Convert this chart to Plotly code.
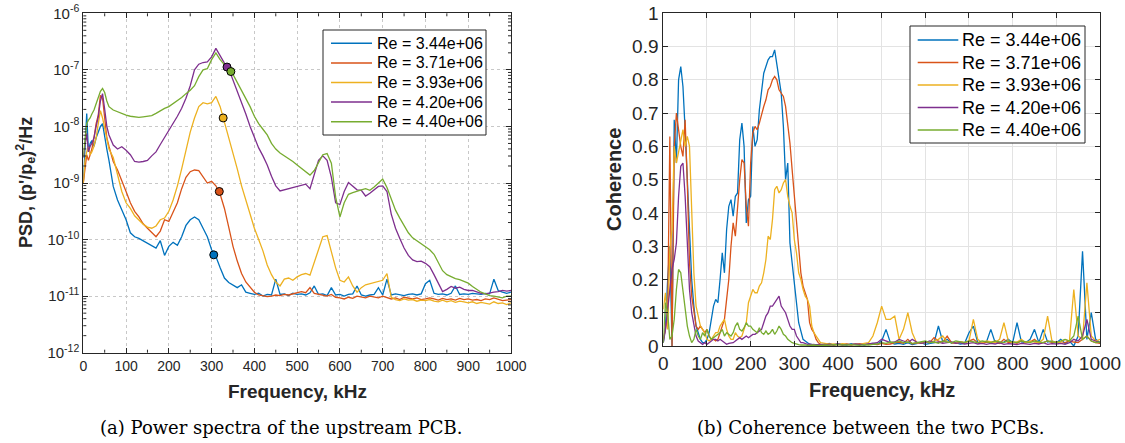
import plotly.graph_objects as go

# ---------------- data ----------------
labels = ["Re = 3.44e+06", "Re = 3.71e+06", "Re = 3.93e+06", "Re = 4.20e+06", "Re = 4.40e+06"]
colors = ["#0072BD", "#D95319", "#EDB120", "#7E2F8E", "#77AC30"]

# (a) power spectra: frequency (kHz) and log10(PSD)
freq_psd = [0, 4, 8, 12, 16, 20, 25, 30, 35, 40, 45, 50, 55, 60] + list(range(70, 1001, 10))

logpsd_344 = [-9.0, -8.4, -7.77, -8.45, -8.3, -8.25, -8.35, -8.2, -8.1, -8.0, -7.95, -8.2, -8.4, -8.6,
              -9.06, -9.3, -9.48, -9.65, -9.88, -9.95, -9.98, -10.02, -10.06, -10.1,
              -10.15, -10.02, -10.28, -10.12, -10.05, -10.1, -9.95, -9.75, -9.65, -9.6,
              -9.65, -9.8, -9.95, -10.18, -10.3, -10.5, -10.68, -10.76, -10.8, -10.85,
              -10.8, -10.93, -10.95, -10.97, -10.95, -11.0, -10.97, -10.98, -10.7, -10.97,
              -10.96, -10.99, -10.95, -10.97, -10.96, -10.98, -10.94, -10.82, -10.97, -10.96,
              -10.99, -10.85, -10.98, -10.97, -11.0, -10.97, -10.96, -10.82, -10.98, -11.0,
              -10.98, -10.97, -10.85, -10.98, -10.7, -10.98, -10.96, -10.97, -10.99, -10.97,
              -10.96, -10.98, -10.96, -10.78, -10.72, -10.95, -10.97, -10.96, -10.98, -10.95,
              -10.82, -10.97, -10.96, -10.97, -10.95, -10.96, -10.97, -10.95, -10.96, -10.7,
              -10.9, -10.93, -10.95, -10.93]
logpsd_371 = [-9.0, -8.7, -8.5, -8.6, -8.5, -8.4, -8.2, -7.95, -7.8, -7.45, -7.5, -7.9, -8.2, -8.35,
              -8.62, -8.77, -8.95, -9.15, -9.35, -9.5, -9.6, -9.72, -9.8, -9.88,
              -9.95, -9.85, -9.65, -9.68, -9.52, -9.35, -9.1, -8.9, -8.8, -8.77,
              -8.78, -8.88, -9.0, -8.97, -9.05, -9.2, -9.45, -9.78, -10.12, -10.38,
              -10.6, -10.75, -10.85, -10.93, -10.98, -11.0, -11.01, -11.0, -10.98, -10.99,
              -10.97, -10.98, -10.96, -10.95, -10.92, -10.94, -10.85, -10.95, -10.97, -10.99,
              -11.0, -10.97, -11.02, -11.03, -11.05, -11.02, -11.04, -11.0, -11.02, -11.03,
              -11.0, -11.02, -11.03, -11.0, -11.02, -11.05, -11.03, -11.06, -11.02, -11.04,
              -11.05, -11.03, -11.06, -11.05, -11.03, -11.05, -11.07, -11.04, -11.06, -11.05,
              -11.07, -11.04, -11.06, -11.05, -11.07, -11.06, -11.08, -11.05, -11.06, -11.03,
              -11.06, -11.08, -11.07, -11.06]
logpsd_393 = [-9.0, -8.6, -8.45, -8.36, -8.5, -8.45, -8.35, -8.2, -7.95, -7.72, -7.85, -8.05, -8.25, -8.4,
              -8.55, -8.85, -9.15, -9.35, -9.45, -9.58, -9.65, -9.73, -9.78, -9.8,
              -9.76, -9.65, -9.62, -9.5, -9.3, -9.05, -8.75, -8.4, -8.1, -7.85,
              -7.65, -7.58, -7.6, -7.58, -7.47, -7.65, -7.92, -8.2, -8.5, -8.75,
              -9.05, -9.3, -9.55, -9.8, -10.0, -10.2, -10.45, -10.62, -10.75, -10.82,
              -10.7, -10.68, -10.72, -10.66, -10.62, -10.6, -10.63, -10.4, -10.15, -9.95,
              -9.93, -10.2, -10.5, -10.72, -10.75, -10.66, -10.82, -10.93, -10.85, -10.8,
              -10.78, -10.76, -10.74, -10.72, -10.6, -11.02, -11.06, -11.08, -11.05, -11.07,
              -11.06, -11.09, -11.07, -11.08, -11.06, -11.09, -11.1, -11.07, -11.1, -11.08,
              -11.11, -11.09, -11.1, -11.12, -11.1, -11.13, -11.11, -11.12, -11.14, -11.1,
              -11.13, -11.12, -11.15, -11.12]
logpsd_420 = [-8.55, -8.35, -8.12, -8.45, -8.35, -8.3, -8.2, -8.0, -7.83, -7.55, -7.42, -7.7, -8.0, -8.15,
              -8.33, -8.4, -8.36, -8.42, -8.5, -8.62, -8.63, -8.62, -8.6, -8.52,
              -8.45, -8.32, -8.2, -8.08, -7.95, -7.82, -7.68, -7.5, -7.28, -7.0,
              -6.9, -6.87, -6.86, -6.77, -6.62, -6.75, -6.88, -6.98, -7.18, -7.36,
              -7.56, -7.78, -8.0, -8.2, -8.38, -8.52, -8.68, -8.88, -9.05, -9.14,
              -9.12, -9.1, -9.08, -9.05, -9.04, -9.02, -9.1, -8.85, -8.6, -8.52,
              -8.6, -8.9, -9.35, -9.38, -9.15, -8.99, -9.05, -9.12, -9.13, -9.23,
              -9.18, -9.12, -9.06, -9.05, -9.15, -9.55, -9.8, -9.98, -10.15, -10.28,
              -10.36, -10.39, -10.38, -10.42, -10.48, -10.62, -10.78, -10.92, -10.88, -10.83,
              -10.86, -10.84, -10.88, -10.9, -10.9, -10.93, -10.95, -10.96, -10.94, -10.93,
              -10.92, -10.9, -10.91, -10.9]
logpsd_440 = [-8.53, -8.25, -7.95, -7.89, -7.85, -7.78, -7.71, -7.6, -7.5, -7.38, -7.33, -7.4, -7.55, -7.65,
              -7.71, -7.74, -7.78, -7.8, -7.82, -7.83, -7.84, -7.83, -7.82, -7.81,
              -7.77, -7.72, -7.68, -7.65, -7.6, -7.55, -7.49, -7.42, -7.36, -7.28,
              -7.12, -7.0, -6.98, -6.82, -6.7, -6.82, -6.92, -7.0, -7.08, -7.22,
              -7.35, -7.5, -7.65, -7.82, -7.95, -8.05, -8.15, -8.3, -8.4, -8.47,
              -8.52, -8.56, -8.62, -8.68, -8.74, -8.8, -8.86, -8.78, -8.65, -8.5,
              -8.48, -8.65, -9.25, -9.6, -9.35, -9.2, -9.17, -9.14, -9.12, -9.1,
              -9.13, -9.07, -9.0, -8.93, -9.08, -9.3, -9.48, -9.62, -9.76, -9.88,
              -9.97, -10.02, -10.07, -10.12, -10.18, -10.26, -10.42, -10.55, -10.62, -10.66,
              -10.69, -10.71, -10.74, -10.77, -10.83, -10.88, -10.93, -10.96, -10.99, -11.0,
              -11.02, -11.03, -11.0, -11.0]
logpsd_all = [logpsd_344, logpsd_371, logpsd_393, logpsd_420, logpsd_440]

marker_freq = [305, 318, 327, 336, 345]
marker_logpsd = [-10.27, -9.15, -7.85, -6.95, -7.03]

# (b) coherence
freq_coh = list(range(0, 361, 5)) + list(range(370, 1001, 10))

coh_344 = [0.01, 0.06, 0.2, 0.3, 0.0, 0.68, 0.55, 0.8, 0.84, 0.78,
           0.65, 0.5, 0.33, 0.2, 0.12, 0.06, 0.04, 0.02, 0.01, 0.01,
           0.02, 0.04, 0.08, 0.12, 0.14, 0.13, 0.2, 0.28, 0.22, 0.35,
           0.42, 0.44, 0.39, 0.45, 0.46, 0.62, 0.67, 0.6, 0.37, 0.44,
           0.45, 0.66, 0.6, 0.62, 0.71, 0.76, 0.82, 0.84, 0.86, 0.87,
           0.87, 0.89, 0.85, 0.8, 0.76, 0.66, 0.5, 0.55, 0.31, 0.25,
           0.18, 0.13, 0.07, 0.04, 0.02, 0.015, 0.01, 0.005, 0.005, 0.003,
           0.004, 0.003, 0.005,
           0.004, 0.008, 0.003, 0.006, 0.004, 0.003, 0.007, 0.004, 0.005, 0.003,
           0.006, 0.008, 0.005, 0.015, 0.05, 0.01, 0.006, 0.008, 0.005, 0.01,
           0.004, 0.006, 0.01, 0.005, 0.008, 0.01, 0.06, 0.012, 0.02, 0.008,
           0.01, 0.006, 0.008, 0.04, 0.06, 0.01, 0.008, 0.012, 0.05, 0.01,
           0.008, 0.012, 0.02, 0.01, 0.07, 0.012, 0.01, 0.02, 0.05, 0.01,
           0.05, 0.012, 0.015, 0.01, 0.02, 0.008, 0.015, 0.0, 0.03, 0.285,
           0.02, 0.1, 0.02, 0.01]
coh_371 = [0.02, 0.05, 0.1, 0.63, 0.0, 0.6, 0.7, 0.65, 0.6, 0.57,
           0.68, 0.49, 0.25, 0.15, 0.1, 0.06, 0.05, 0.06, 0.05, 0.04,
           0.05, 0.03, 0.02, 0.02, 0.015, 0.02, 0.04, 0.06, 0.08, 0.14,
           0.2, 0.3, 0.37, 0.33, 0.42, 0.5, 0.56, 0.55, 0.42, 0.36,
           0.55, 0.64, 0.66, 0.65, 0.67, 0.7, 0.72, 0.74, 0.77, 0.78,
           0.8, 0.81, 0.8, 0.77, 0.76, 0.75, 0.72, 0.67, 0.61, 0.53,
           0.45, 0.37, 0.28, 0.22, 0.18, 0.16, 0.14, 0.07, 0.05, 0.04,
           0.02, 0.01, 0.005,
           0.004, 0.006, 0.003, 0.005, 0.004, 0.006, 0.003, 0.005, 0.007, 0.004,
           0.005, 0.006, 0.004, 0.008, 0.005, 0.006, 0.01, 0.012, 0.008, 0.02,
           0.006, 0.01, 0.008, 0.012, 0.01, 0.025, 0.015, 0.012, 0.03, 0.01,
           0.008, 0.012, 0.01, 0.015, 0.02, 0.01, 0.008, 0.012, 0.01, 0.015,
           0.008, 0.02, 0.01, 0.012, 0.008, 0.015, 0.01, 0.012, 0.02, 0.008,
           0.01, 0.015, 0.01, 0.012, 0.008, 0.01, 0.015, 0.012, 0.01, 0.02,
           0.03, 0.015, 0.01, 0.008]
coh_393 = [0.11, 0.16, 0.05, 0.29, 0.35, 0.6, 0.55, 0.58, 0.62, 0.65,
           0.6, 0.63, 0.6, 0.43, 0.22, 0.12, 0.09, 0.06, 0.05, 0.04,
           0.02, 0.015, 0.02, 0.03, 0.04, 0.04, 0.06, 0.07, 0.08, 0.05,
           0.03, 0.02, 0.02, 0.04, 0.03, 0.025, 0.03, 0.05, 0.07, 0.13,
           0.15, 0.17, 0.16, 0.16, 0.18, 0.19, 0.22, 0.26, 0.33, 0.32,
           0.38, 0.47, 0.48, 0.46, 0.47, 0.49, 0.5, 0.45, 0.42, 0.4,
           0.32, 0.28, 0.22, 0.2, 0.17, 0.15, 0.14, 0.12, 0.06, 0.04,
           0.03, 0.02, 0.01,
           0.008, 0.005, 0.006, 0.004, 0.007, 0.005, 0.004, 0.006, 0.005, 0.008,
           0.01, 0.03, 0.07, 0.12, 0.08, 0.08, 0.09, 0.02, 0.05, 0.1,
           0.04, 0.01, 0.008, 0.012, 0.01, 0.015, 0.02, 0.03, 0.012, 0.01,
           0.008, 0.012, 0.01, 0.015, 0.08, 0.02, 0.01, 0.015, 0.012, 0.01,
           0.02, 0.07, 0.015, 0.01, 0.012, 0.02, 0.01, 0.015, 0.012, 0.01,
           0.02, 0.09, 0.015, 0.01, 0.012, 0.02, 0.015, 0.17, 0.03, 0.02,
           0.19, 0.03, 0.015, 0.02]
coh_420 = [0.01, 0.05, 0.11, 0.18, 0.23, 0.26, 0.31, 0.45, 0.54, 0.55,
           0.45, 0.31, 0.17, 0.1, 0.06, 0.03, 0.015, 0.01, 0.005, 0.01,
           0.005, 0.01, 0.015, 0.02, 0.02, 0.015, 0.02, 0.015, 0.01, 0.005,
           0.008, 0.01, 0.01, 0.015, 0.02, 0.025, 0.02, 0.025, 0.03, 0.025,
           0.03, 0.035, 0.035, 0.04, 0.045, 0.05, 0.07, 0.09, 0.1, 0.12,
           0.12, 0.13, 0.14, 0.15, 0.12, 0.11, 0.1, 0.08, 0.06, 0.05,
           0.05, 0.03, 0.02, 0.01, 0.01, 0.008, 0.005, 0.006, 0.004, 0.005,
           0.003, 0.005, 0.004,
           0.005, 0.003, 0.004, 0.006, 0.003, 0.005, 0.004, 0.006, 0.005, 0.004,
           0.006, 0.008, 0.01, 0.02, 0.015, 0.01, 0.012, 0.02, 0.015, 0.01,
           0.02, 0.012, 0.008, 0.01, 0.015, 0.01, 0.012, 0.008, 0.01, 0.012,
           0.008, 0.01, 0.006, 0.008, 0.01, 0.006, 0.008, 0.005, 0.008, 0.006,
           0.01, 0.005, 0.007, 0.006, 0.004, 0.008, 0.006, 0.005, 0.008, 0.006,
           0.01, 0.005, 0.007, 0.006, 0.008, 0.005, 0.01, 0.02, 0.015, 0.03,
           0.08, 0.02, 0.015, 0.01]
coh_440 = [0.01, 0.13, 0.1, 0.02, 0.03, 0.08, 0.17, 0.23, 0.22, 0.16,
           0.1, 0.06, 0.03, 0.01, 0.02, 0.05, 0.03, 0.02, 0.04, 0.03,
           0.05, 0.03, 0.02, 0.025, 0.03, 0.035, 0.04, 0.05, 0.03, 0.04,
           0.035, 0.03, 0.04, 0.06, 0.07, 0.05, 0.045, 0.055, 0.07, 0.06,
           0.06, 0.05, 0.045, 0.04, 0.055, 0.04, 0.035, 0.045, 0.035, 0.04,
           0.05, 0.035, 0.045, 0.06, 0.05, 0.035, 0.03, 0.02, 0.015, 0.01,
           0.008, 0.005, 0.004, 0.003, 0.004, 0.003, 0.002, 0.003, 0.002, 0.003,
           0.002, 0.003, 0.002,
           0.003, 0.002, 0.004, 0.003, 0.002, 0.003, 0.004, 0.003, 0.002, 0.004,
           0.003, 0.005, 0.006, 0.01, 0.008, 0.012, 0.01, 0.015, 0.01, 0.012,
           0.008, 0.01, 0.012, 0.015, 0.01, 0.012, 0.008, 0.015, 0.012, 0.01,
           0.015, 0.012, 0.01, 0.015, 0.012, 0.01, 0.015, 0.012, 0.01, 0.015,
           0.012, 0.01, 0.015, 0.012, 0.01, 0.015, 0.012, 0.01, 0.015, 0.012,
           0.01, 0.015, 0.012, 0.01, 0.015, 0.02, 0.015, 0.03, 0.09, 0.02,
           0.03, 0.015, 0.01, 0.012]
coh_all = [coh_344, coh_371, coh_393, coh_420, coh_440]

for s in logpsd_all:
    assert len(s) == len(freq_psd), len(s)
for s in coh_all:
    assert len(s) == len(freq_coh), len(s)

psd_ticks = [1e-12, 1e-11, 1e-10, 1e-9, 1e-8, 1e-7, 1e-6]
psd_ticktext = ["10<sup>-12</sup>", "10<sup>-11</sup>", "10<sup>-10</sup>", "10<sup>-9</sup>",
                "10<sup>-8</sup>", "10<sup>-7</sup>", "10<sup>-6</sup>"]
psd_minor = [m * 10.0 ** e for e in range(-12, -6) for m in range(2, 10)]
freq_minor = list(range(50, 1000, 100))

# ---------------- figure ----------------
W, H = 1125, 443
INK = "#262626"
SANS = "Liberation Sans"
fig = go.Figure()

for i in range(5):
    fig.add_trace(go.Scatter(
        x=freq_psd, y=[10 ** v for v in logpsd_all[i]], mode="lines",
        line=dict(color=colors[i], width=1.3), name=labels[i],
        xaxis="x", yaxis="y", showlegend=False))
for i in range(5):
    fig.add_trace(go.Scatter(
        x=[marker_freq[i]], y=[10 ** marker_logpsd[i]], mode="markers",
        marker=dict(color=colors[i], size=8, line=dict(color="black", width=1)),
        showlegend=False, xaxis="x", yaxis="y"))
for i in range(5):
    fig.add_trace(go.Scatter(
        x=freq_coh, y=coh_all[i], mode="lines",
        line=dict(color=colors[i], width=1.3), name=labels[i],
        xaxis="x2", yaxis="y2", showlegend=False))

common = dict(showline=True, linecolor=INK, linewidth=1, mirror="ticks", ticks="inside",
              tickcolor=INK, ticklen=5, zeroline=False, automargin=False)

L_X0, L_X1, L_Y0, L_Y1 = 83.3, 511, 13.3, 352.7   # left axes box (px)
fig.update_layout(
    width=W, height=H, margin=dict(l=0, r=0, t=0, b=0),
    paper_bgcolor="white", plot_bgcolor="white", showlegend=False,
    xaxis=dict(domain=[L_X0 / W, L_X1 / W], range=[0, 1000], tick0=0, dtick=100,
               anchor="y", showgrid=True, gridcolor="#c8c8c8", griddash="dot", gridwidth=1,
               tickfont=dict(family=SANS, size=14, color=INK),
               **common),
    yaxis=dict(domain=[1 - L_Y1 / H, 1 - L_Y0 / H], type="log", range=[-12, -6],
               tickmode="array", tickvals=psd_ticks, ticktext=psd_ticktext, anchor="x",
               showgrid=True, gridcolor="#c8c8c8", griddash="dot", gridwidth=1,
               tickfont=dict(family=SANS, size=15, color=INK),
               **common),
    xaxis2=dict(domain=[663.3 / W, 1100 / W], range=[0, 1000], tick0=0, dtick=100,
                anchor="y2", showgrid=True, gridcolor="#e3e3e3", gridwidth=1,
                tickfont=dict(family=SANS, size=19, color=INK), **common),
    yaxis2=dict(domain=[1 - 346 / H, 1 - 13.3 / H], range=[0, 1], tick0=0, dtick=0.1,
                anchor="x2", showgrid=True, gridcolor="#e3e3e3", gridwidth=1,
                tickfont=dict(family=SANS, size=19, color=INK), **common),
)

# minor ticks of the left axes (inside, on all four sides)
mlen_x = 3 / (L_Y1 - L_Y0)
mlen_y = 3 / (L_X1 - L_X0)
for f in freq_minor:
    for y0, y1 in [(0, mlen_x), (1, 1 - mlen_x)]:
        fig.add_shape(type="line", xref="x", yref="y domain", x0=f, x1=f, y0=y0, y1=y1,
                      line=dict(color=INK, width=1))
for v in psd_minor:
    for x0, x1 in [(0, mlen_y), (1, 1 - mlen_y)]:
        fig.add_shape(type="line", xref="x domain", yref="y", x0=x0, x1=x1, y0=v, y1=v,
                      line=dict(color=INK, width=1))

ann = [
    dict(text="<b>Frequency, kHz</b>", x=297 / W, y=1 - 391 / H,
         font=dict(family=SANS, size=19, color=INK)),
    dict(text="<b>Frequency, kHz</b>", x=881.6 / W, y=1 - 390 / H,
         font=dict(family=SANS, size=20, color=INK)),
    dict(text="<b>PSD, (p'/p<sub>e</sub>)<sup>2</sup>/Hz</b>", x=25 / W, y=1 - 183 / H, textangle=-90,
         font=dict(family=SANS, size=18, color=INK)),
    dict(text="<b>Coherence</b>", x=614 / W, y=1 - 180 / H, textangle=-90,
         font=dict(family=SANS, size=20, color=INK)),
    dict(text="(a) Power spectra of the upstream PCB.", x=281.5 / W, y=1 - 427 / H,
         font=dict(family="DejaVu Serif", size=18, color="black")),
    dict(text="(b) Coherence between the two PCBs.", x=870 / W, y=1 - 427 / H,
         font=dict(family="DejaVu Serif", size=18, color="black")),
]
for a in ann:
    fig.add_annotation(xref="paper", yref="paper", showarrow=False,
                       xanchor="center", yanchor="middle", **a)

# ---- legends (boxed, MATLAB-style) ----
def add_legend(x0, x1, y0, y1, line_x0, line_x1, text_x, row_y, fsize):
    fig.add_shape(type="rect", xref="paper", yref="paper",
                  x0=x0 / W, x1=x1 / W, y0=1 - y1 / H, y1=1 - y0 / H,
                  line=dict(color=INK, width=1), fillcolor="white", layer="above")
    for i in range(5):
        yy = 1 - row_y[i] / H
        fig.add_shape(type="line", xref="paper", yref="paper",
                      x0=line_x0 / W, x1=line_x1 / W, y0=yy, y1=yy,
                      line=dict(color=colors[i], width=1.5), layer="above")
        fig.add_annotation(xref="paper", yref="paper", showarrow=False,
                           x=text_x / W, y=yy, xanchor="left", yanchor="middle",
                           text=labels[i], font=dict(family=SANS, size=fsize, color="black"))

add_legend(323, 486, 30, 135, 331, 372, 375, [43.3, 62.9, 82.5, 102.1, 121.7], 16)
add_legend(910, 1085, 26, 143, 917.7, 958.3, 960, [40, 62.5, 85, 107.5, 130], 18)

fig.write_html("out.html")
